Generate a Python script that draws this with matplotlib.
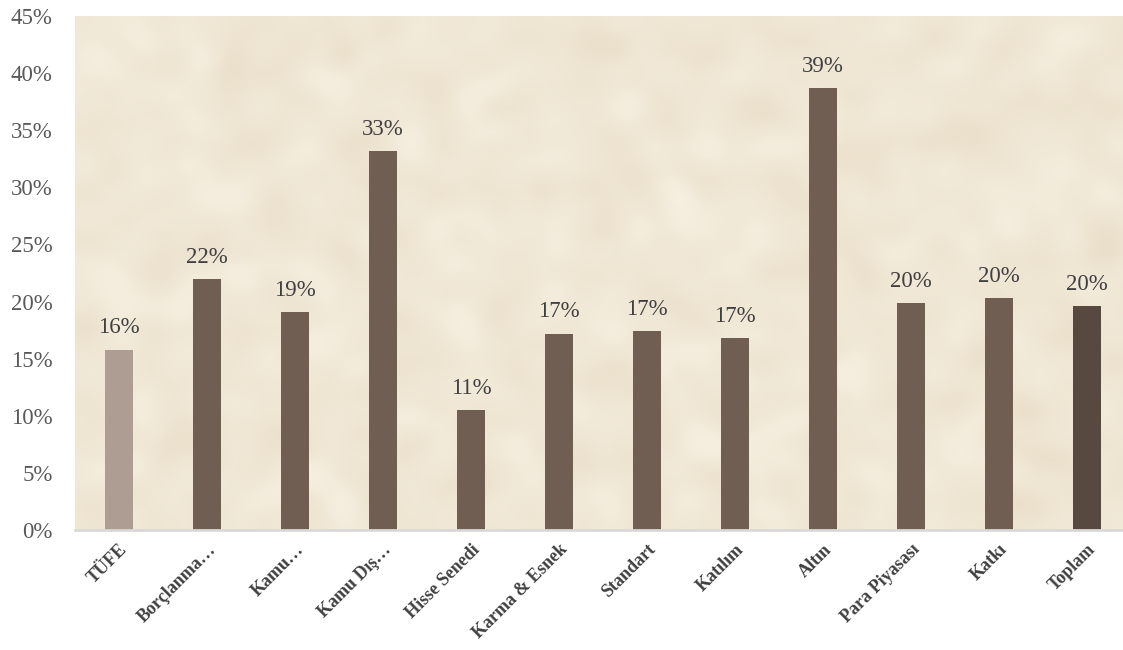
"""
Getiri grafiği: fon gruplarına göre yıllık getiri, TÜFE ve toplam ile birlikte.
"""
import matplotlib

matplotlib.use("Agg")
import matplotlib.pyplot as plt
import numpy as np
from matplotlib.ticker import FuncFormatter, MultipleLocator

categories = ["TÜFE", "Borçlanma…", "Kamu…", "Kamu Dış…", "Hisse Senedi",
              "Karma & Esnek", "Standart", "Katılım", "Altın", "Para Piyasası",
              "Katkı", "Toplam"]
returns = [0.158, 0.220, 0.191, 0.332, 0.105, 0.172, 0.174, 0.168, 0.387,
           0.199, 0.203, 0.196]
value_labels = ["16%", "22%", "19%", "33%", "11%", "17%", "17%", "17%", "39%",
                "20%", "20%", "20%"]

BAR = "#705e53"
colors = [BAR] * len(categories)
colors[0] = "#ae9d93"
colors[-1] = "#574840"

plt.rcParams["font.family"] = ["Liberation Serif", "DejaVu Serif"]

fig = plt.figure(figsize=(11.23, 6.5), dpi=100)
ax = fig.add_axes([0.0668, 0.1846, 0.9403, 0.7908])

# parchment-like background (decorative only)
rng = np.random.default_rng(3)
noise = rng.normal(size=(60, 110))
k = np.ones(3) / 3
for _ in range(2):
    noise = np.apply_along_axis(lambda r: np.convolve(r, k, mode="same"), 1, noise)
    noise = np.apply_along_axis(lambda c: np.convolve(c, k, mode="same"), 0, noise)
noise = (noise - noise.min()) / (noise.max() - noise.min())
base = np.array([0.968, 0.942, 0.885])
dark = np.array([0.915, 0.872, 0.790])
tex = base[None, None, :] * (1 - noise[..., None]) + dark[None, None, :] * noise[..., None]
ax.imshow(tex, extent=(-0.5, len(categories) - 0.5, 0, 0.45), aspect="auto",
          interpolation="bicubic", zorder=0)

x = np.arange(len(categories))
bars = ax.bar(x, returns, width=0.32, color=colors, zorder=2)
for bar, lab in zip(bars, value_labels):
    ax.annotate(lab, (bar.get_x() + bar.get_width() / 2, bar.get_height()),
                xytext=(0, 8), textcoords="offset points", ha="center", va="bottom",
                fontsize=16.5, color="#404040", zorder=3)

ax.set_xlim(-0.5, len(categories) - 0.5)
ax.set_ylim(0, 0.45)
ax.yaxis.set_major_locator(MultipleLocator(0.05))
ax.yaxis.set_major_formatter(FuncFormatter(lambda v, _: f"{v * 100:.0f}%"))
ax.set_xticks(x)
ax.set_xticklabels(categories, rotation=45, ha="right", rotation_mode="anchor",
                   fontsize=13, fontweight="bold", color="#404040")
ax.tick_params(axis="y", length=0, labelsize=16.5, labelcolor="#595959", pad=16)
ax.tick_params(axis="x", length=0, pad=8)
for side in ("top", "right", "left"):
    ax.spines[side].set_visible(False)
ax.spines["bottom"].set_color("#d9d9d9")
ax.spines["bottom"].set_linewidth(2)
ax.spines["bottom"].set_zorder(4)

fig.savefig("out.png", dpi=100)
